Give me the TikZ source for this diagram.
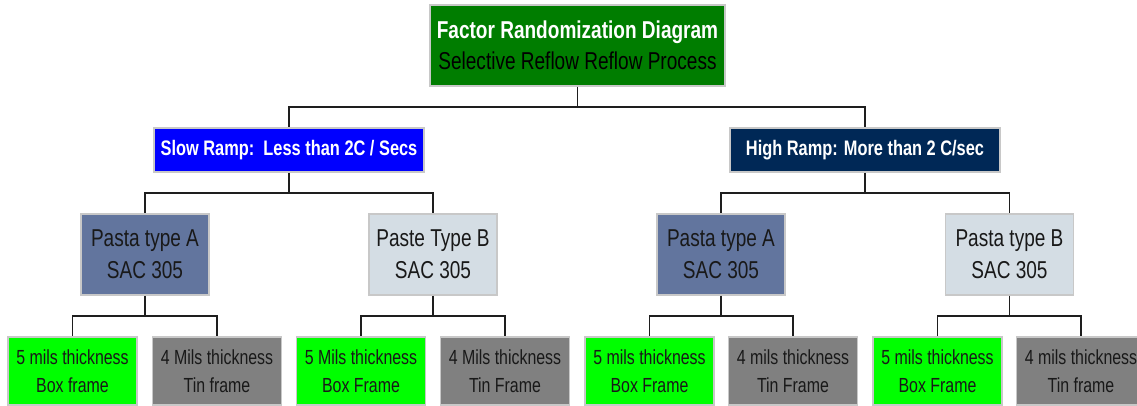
\documentclass[tikz,border=0pt]{standalone}
\usepackage{fontspec}
\setmainfont{Liberation Sans}[FakeStretch=0.78]
\usepackage{xcolor}
\usepackage{tikz}
\usetikzlibrary{positioning,calc}
\definecolor{headgreen}{RGB}{0, 125, 0}
\definecolor{slowblue}{RGB}{0, 0, 255}
\definecolor{highnavy}{RGB}{0, 40, 86}
\definecolor{pasteslate}{RGB}{98, 117, 158}
\definecolor{pastelight}{RGB}{212, 221, 228}
\definecolor{leafgreen}{RGB}{0, 255, 0}
\definecolor{leafgray}{RGB}{128, 128, 128}
\definecolor{edgegray}{RGB}{200, 200, 200}
\definecolor{linkdark}{RGB}{30, 30, 30}

\begin{document}
\begin{tikzpicture}[x=0.5pt,y=-0.5pt,
    box/.style={draw=edgegray,line width=0.8pt,align=center,inner sep=0pt},
    ramp/.style={box,minimum width=135pt,minimum height=22pt,font=\fontsize{10.5}{13}\selectfont\bfseries,text=white},
    paste/.style={box,minimum width=64pt,minimum height=40.5pt,font=\fontsize{12.2}{16}\selectfont,text=black!90},
    leaf/.style={box,minimum width=64.5pt,minimum height=34pt,font=\fontsize{10.2}{14}\selectfont,text=black!90},
    link/.style={draw=linkdark,line width=0.8pt}]
    \clip (0,0) rectangle (1137,406);

    % top of the tree
    \node[box,fill=headgreen,minimum width=147.5pt,minimum height=40.5pt,font=\fontsize{12.2}{15.5}\selectfont] (head) at (577.5,45.5)
        {\textcolor{white}{\bfseries Factor Randomization Diagram}\\ Selective Reflow Reflow Process};

    % ramp rates
    \node[ramp,fill=slowblue] (slow) at (289,150) {Slow Ramp:\ \ Less than 2C / Secs};
    \node[ramp,fill=highnavy] (high) at (865,150) {High Ramp: More than 2 C/sec};

    % solder pastes
    \node[paste,fill=pasteslate] (slowA) at (145,254.5) {Pasta type A\\ SAC 305};
    \node[paste,fill=pastelight] (slowB) at (433,254.5) {Paste Type B\\ SAC 305};
    \node[paste,fill=pasteslate] (highA) at (721,254.5) {Pasta type A\\ SAC 305};
    \node[paste,fill=pastelight] (highB) at (1009.5,254.5) {Pasta type B\\ SAC 305};

    % stencil thickness and frame
    \node[leaf,fill=leafgreen] (slowA5) at (72.5,371) {5 mils thickness\\ Box frame};
    \node[leaf,fill=leafgray] (slowA4) at (217,371) {4 Mils thickness\\ Tin frame};
    \node[leaf,fill=leafgreen] (slowB5) at (361,371) {5 Mils thickness\\ Box Frame};
    \node[leaf,fill=leafgray] (slowB4) at (505,371) {4 Mils thickness\\ Tin Frame};
    \node[leaf,fill=leafgreen] (highA5) at (649.5,371) {5 mils thickness\\ Box Frame};
    \node[leaf,fill=leafgray] (highA4) at (793,371) {4 mils thickness\\ Tin Frame};
    \node[leaf,fill=leafgreen] (highB5) at (937.5,371) {5 mils thickness\\ Box Frame};
    \node[leaf,fill=leafgray] (highB4) at (1081,371) {4 mils thickness\\ Tin frame};

    % elbow connectors
    \foreach \a/\b in {head/slow,head/high,
                       slow/slowA,slow/slowB,high/highA,high/highB,
                       slowA/slowA5,slowA/slowA4,slowB/slowB5,slowB/slowB4,
                       highA/highA5,highA/highA4,highB/highB5,highB/highB4}
        \draw[link] (\a.south) -- ++(0,20) -| (\b.north);
\end{tikzpicture}
\end{document}
